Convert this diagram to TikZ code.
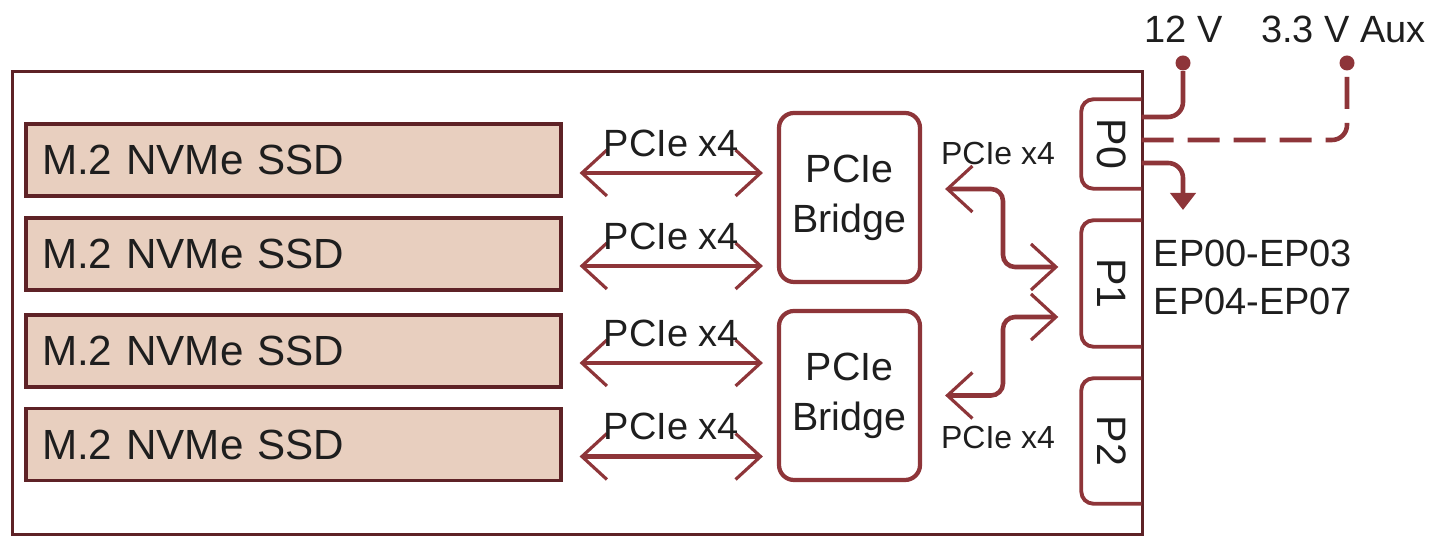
\documentclass[tikz,border=0pt]{standalone}
\usepackage{fontspec}
\setmainfont{Liberation Sans}
\usepackage{tikz}
\usetikzlibrary{positioning,arrows.meta}
\definecolor{boardline}{HTML}{5E2226}
\definecolor{wire}{HTML}{8E3539}
\definecolor{ssdfill}{HTML}{E8CFBF}
\definecolor{inktext}{HTML}{1E1E1E}
\tikzset{
  % --- carrier board, drives and bridges ---
  board/.style={draw=boardline, line width=0.9pt, minimum width=113mm,
                minimum height=46.3mm, inner sep=0pt},
  ssd/.style={draw=boardline, line width=0.9pt, fill=ssdfill, align=left,
              text width=50.3mm, inner xsep=1.6mm, inner ysep=0pt,
              minimum height=7.2mm, font=\fontsize{12}{14}\selectfont},
  bridge/.style={draw=wire, line width=1.2pt, rounded corners=1.5mm,
                 align=center, minimum width=14.1mm, minimum height=16.9mm,
                 inner sep=0pt, font=\fontsize{11.2}{14.2}\selectfont},
  % --- edge connector ports (right side sits on the board edge) ---
  port/.style={minimum width=5.9mm, inner sep=0pt},
  portline/.style={draw=wire, line width=1.1pt, rounded corners=1.2mm},
  porttext/.style={rotate=-90, inner sep=0pt, font=\fontsize{11.7}{13}\selectfont},
  % --- links and labels ---
  link/.style={draw=wire, line width=1.3pt, {Straight Barb[length=2.5mm,width=4.6mm,line width=0.9pt]}-{Straight Barb[length=2.5mm,width=4.6mm,line width=0.9pt]}},
  uplink/.style={link, rounded corners=1.2mm},
  power/.style={draw=wire, line width=1.3pt, rounded corners=1.5mm},
  feed/.style={power, -{Triangle[length=1.7mm,width=2.5mm]}},
  pin/.style={circle, fill=wire, draw=none, minimum size=1.5mm, inner sep=0pt},
  lbl/.style={inner sep=0pt, text=inktext, font=\fontsize{10.8}{13}\selectfont},
  smalllbl/.style={lbl, font=\fontsize{9.1}{11}\selectfont},
}

\begin{document}
\begin{tikzpicture}[text=inktext]
  \useasboundingbox (0,0) rectangle (14.29,-5.41);

  % --- carrier board ---
  \node[board, anchor=north west] (board) at (0.11,-0.70) {};

  % --- four M.2 drives ---
  \node[ssd] (ssd1) at (2.935,-1.600) {M.2 NVMe SSD};
  \node[ssd] (ssd2) at (2.935,-2.540) {M.2 NVMe SSD};
  \node[ssd] (ssd3) at (2.935,-3.510) {M.2 NVMe SSD};
  \node[ssd] (ssd4) at (2.935,-4.445) {M.2 NVMe SSD};

  % --- two bridges ---
  \node[bridge] (bridge1) at (8.495,-1.975) {PCIe\\Bridge};
  \node[bridge] (bridge2) at (8.495,-3.955) {PCIe\\Bridge};

  % --- drive <-> bridge links ---
  \draw[link] ([xshift=1.7mm,yshift=-1.3mm]ssd1.east) --
        node[lbl, above=1.4mm]{PCIe x4} ([xshift=-1.4mm,yshift=-1.3mm]ssd1.east -| bridge1.west);
  \draw[link] ([xshift=1.7mm,yshift=-1.2mm]ssd2.east) --
        node[lbl, above=1.4mm]{PCIe x4} ([xshift=-1.4mm,yshift=-1.2mm]ssd2.east -| bridge1.west);
  \draw[link] ([xshift=1.7mm,yshift=-1.2mm]ssd3.east) --
        node[lbl, above=1.4mm]{PCIe x4} ([xshift=-1.4mm,yshift=-1.2mm]ssd3.east -| bridge2.west);
  \draw[link] ([xshift=1.7mm,yshift=-1.2mm]ssd4.east) --
        node[lbl, above=1.4mm]{PCIe x4} ([xshift=-1.4mm,yshift=-1.2mm]ssd4.east -| bridge2.west);

  % --- ports on the board edge ---
  \node[port, minimum height=8.8mm]  (p0) at (11.115,-1.440) {};
  \node[port, minimum height=12.5mm] (p1) at (11.115,-2.835) {};
  \node[port, minimum height=12.4mm] (p2) at (11.115,-4.410) {};
  \draw[portline] (p0.north east) -- (p0.north west) -- (p0.south west) -- (p0.south east);
  \draw[portline] (p1.north east) -- (p1.north west) -- (p1.south west) -- (p1.south east);
  \draw[portline] (p2.north east) -- (p2.north west) -- (p2.south west) -- (p2.south east);
  \node[porttext] (p0t) at (p0) {P0};
  \node[porttext] (p1t) at (p1) {P1};
  \node[porttext] (p2t) at (p2) {P2};

  % --- bridge <-> P1 uplinks ---
  \coordinate (j1) at (10.03,-2.67);
  \coordinate (j2) at (10.03,-3.17);
  \draw[uplink] ([xshift=2.3mm,yshift=0.85mm]bridge1.east) -| (j1)
        -- ([xshift=-2.3mm]p1.west |- j1);
  \draw[uplink] ([xshift=2.3mm]bridge2.east) -| (j2)
        -- ([xshift=-2.3mm]p1.west |- j2);
  \node[smalllbl, anchor=base] (up1) at (9.98,-1.65) {PCIe x4};
  \node[smalllbl, anchor=base] (up2) at (9.98,-4.49) {PCIe x4};

  % --- power pins and endpoint feed on P0 ---
  \node[pin] (v12)  at (11.83,-0.63) {};
  \node[pin] (vaux) at (13.47,-0.63) {};
  \node[lbl, anchor=base] (t12)  at (11.835,-0.43) {12 V};
  \node[lbl, anchor=base] (taux) at (13.435,-0.43) {3.3 V Aux};
  \draw[power] ([yshift=2.7mm]p0.east) -| (v12);
  \draw[power, dash pattern=on 3.2mm off 1.4mm] ([yshift=0.4mm]p0.east) -| (vaux);
  \coordinate (epout) at (11.83,-2.10);
  \draw[feed] ([yshift=-1.9mm]p0.east) -| (epout);
  \node[lbl, anchor=base west] (ep1) at (11.53,-2.67) {EP00-EP03};
  \node[lbl, anchor=base west] (ep2) at (11.53,-3.15) {EP04-EP07};
\end{tikzpicture}
\end{document}
